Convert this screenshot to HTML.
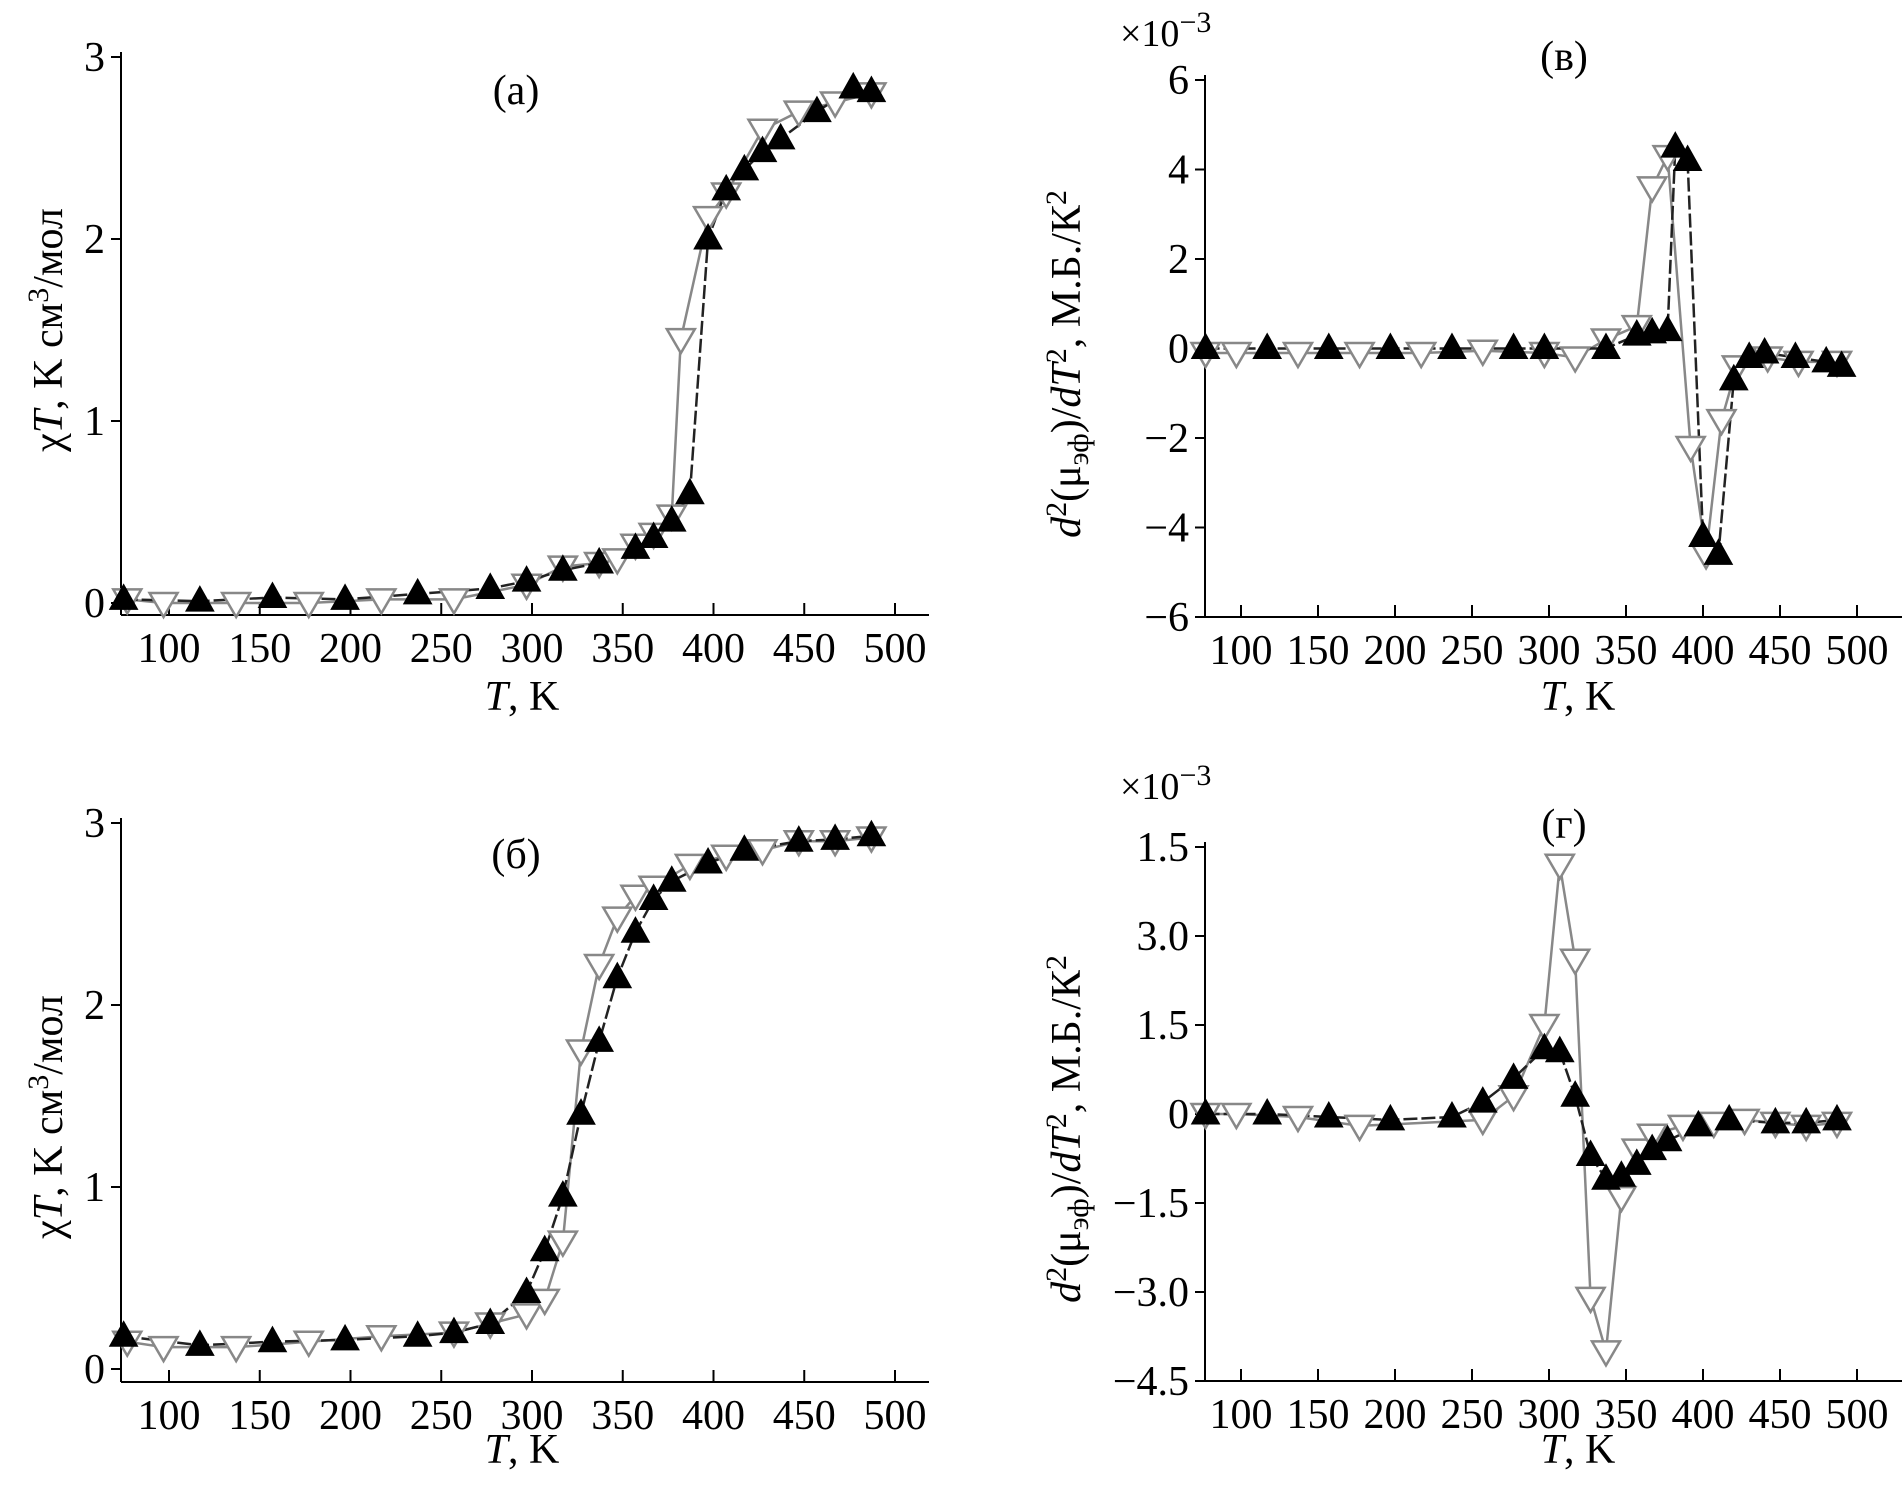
<!DOCTYPE html>
<html><head><meta charset="utf-8"><style>
html,body{margin:0;padding:0;background:#fff;}
svg{display:block;font-family:"Liberation Serif",serif;}
</style></head><body>
<svg id="fig" width="1904" height="1489" viewBox="0 0 1904 1489" xmlns="http://www.w3.org/2000/svg"></svg>
<script>
// Panel (a)
const aFilledT=[75,117,157,197,237,277,297,317,337,357,367,377,387,397,407,417,427,437,457,477,487];
const aFilledV=[0.02,0.01,0.03,0.02,0.05,0.08,0.12,0.18,0.22,0.3,0.36,0.45,0.6,2.0,2.27,2.38,2.48,2.55,2.7,2.83,2.81];
const aOpenT=[77,97,137,177,217,257,297,317,337,347,357,367,377,382,397,407,427,447,467,487];
const aOpenV=[0.02,0.0,0.0,0.0,0.02,0.02,0.1,0.2,0.22,0.24,0.32,0.38,0.48,1.45,2.12,2.25,2.6,2.7,2.75,2.8];
// Panel (b)
const bFilledT=[75,117,157,197,237,257,277,297,307,317,327,337,347,357,367,377,397,417,447,467,487];
const bFilledV=[0.18,0.13,0.15,0.16,0.18,0.2,0.25,0.42,0.65,0.95,1.4,1.8,2.15,2.4,2.58,2.68,2.78,2.85,2.9,2.91,2.93];
const bOpenT=[77,97,137,177,217,257,277,297,307,317,327,337,347,357,367,387,407,427,447,467,487];
const bOpenV=[0.15,0.12,0.12,0.15,0.18,0.2,0.25,0.3,0.38,0.7,1.75,2.22,2.48,2.6,2.65,2.77,2.82,2.85,2.9,2.9,2.92];
// Panel (v)
const vFilledT=[77,117,157,197,237,277,297,337,357,367,377,382,390,400,410,420,430,440,460,480,490];
const vFilledV=[0,0,0,0,0,0,0,0,0.3,0.35,0.4,4.5,4.2,-4.2,-4.6,-0.7,-0.2,-0.1,-0.2,-0.3,-0.4];
const vOpenT=[77,97,137,177,217,257,297,317,337,357,367,377,392,402,412,422,442,462,487];
const vOpenV=[-0.1,-0.1,-0.1,-0.1,-0.1,-0.05,-0.1,-0.2,0.2,0.5,3.6,4.3,-2.2,-4.6,-1.6,-0.4,-0.2,-0.3,-0.3];
// Panel (g)
const gFilledT=[77,117,157,197,237,257,277,297,307,317,327,337,347,357,367,377,397,417,447,467,487];
const gFilledV=[0,0,-0.05,-0.1,-0.05,0.2,0.6,1.1,1.05,0.3,-0.7,-1.1,-1.05,-0.85,-0.6,-0.45,-0.2,-0.1,-0.15,-0.15,-0.1];
const gOpenT=[77,97,137,177,257,277,297,307,317,327,337,347,357,367,387,407,427,447,467,487];
const gOpenV=[0,0,-0.05,-0.2,-0.1,0.3,1.5,4.2,2.6,-3.1,-4.0,-1.4,-0.6,-0.35,-0.2,-0.15,-0.1,-0.15,-0.2,-0.15];
// ticks
const xTicks=[100,150,200,250,300,350,400,450,500];
const chiTicks=[0,1,2,3];
const chiTickLabels=["0","1","2","3"];
const vTicks=[-6,-4,-2,0,2,4,6];
const vTickLabels=["\u22126","\u22124","\u22122","0","2","4","6"];
const gTicks=[-4.5,-3,-1.5,0,1.5,3,4.5];
const gTickLabels=["\u22124.5","\u22123.0","\u22121.5","0","1.5","3.0","1.5"];

const NS="http://www.w3.org/2000/svg";
const svg=document.getElementById('fig');
function mk(tag,attrs,parent){const e=document.createElementNS(NS,tag);for(const k in attrs)e.setAttribute(k,attrs[k]);(parent||svg).appendChild(e);return e;}

function panel(p){
  const g=mk('g',{});
  
  
  const X=t=>p.x100+(t-100)*p.kx;
  const Y=v=>p.y0+(v-p.v0)*(p.y1-p.y0)/(p.v1-p.v0);
  const ya=mk('line',{x1:p.ax,y1:p.axTop,x2:p.ax,y2:p.axY,stroke:'#000','stroke-width':2},g);
  
  
  const xa=mk('line',{x1:p.ax,y1:p.axY,x2:p.axRight,y2:p.axY,stroke:'#000','stroke-width':2},g);
  
  
  xTicks.forEach(t=>{
    mk('line',{x1:X(t),y1:p.axY,x2:X(t),y2:p.axY-12,stroke:'#000','stroke-width':2},g);
    const tx=mk('text',{x:X(t),y:p.axY+47,'font-size':42,'text-anchor':'middle'},g);
    tx.textContent=t;
    
    
  });
  p.yt.forEach((v,i)=>{
    mk('line',{x1:p.ax-10,y1:Y(v),x2:p.ax,y2:Y(v),stroke:'#000','stroke-width':2},g);
    const tx=mk('text',{x:p.ax-16,y:Y(v)+14,'font-size':42,'text-anchor':'end'},g);
    tx.textContent=p.yl[i];
    
    
  });
  const ol=mk('polyline',{points:p.oT.map((t,i)=>X(t)+','+Y(p.oV[i])).join(' '),fill:'none',stroke:'#888','stroke-width':2.5},g);
  
  
  const fl=mk('polyline',{points:p.fT.map((t,i)=>X(t)+','+Y(p.fV[i])).join(' '),fill:'none',stroke:'#222','stroke-width':2.5,'stroke-dasharray':'14,4'},g);
  
  
  p.oT.forEach((t,i)=>{
    const x=X(t),y=Y(p.oV[i]);
    const m=mk('polygon',{points:`${x-14},${y-10} ${x+14},${y-10} ${x},${y+14}`,fill:'#fff',stroke:'#888','stroke-width':2.5},g);
    
    
  });
  p.fT.forEach((t,i)=>{
    const x=X(t),y=Y(p.fV[i]);
    const m=mk('polygon',{points:`${x-14},${y+10} ${x+14},${y+10} ${x},${y-15}`,fill:'#000',stroke:'#000','stroke-width':1},g);
    
    
  });
  const xt=mk('text',{x:p.xtX,y:p.xtY,'font-size':42,'text-anchor':'middle'},g);
  xt.innerHTML='<tspan font-style="italic">T</tspan>, K';
  
  
  const yt=mk('text',{x:0,y:0,'font-size':42,'text-anchor':'middle',transform:`translate(${p.ytX},${p.ytY}) rotate(-90)`},g);
  yt.innerHTML=p.ylab;
  
  
  const pl=mk('text',{x:p.plX,y:p.plY,'font-size':42,'text-anchor':'middle'},g);
  pl.textContent=p.plabel;
  
  
  if(p.mult){
    const mu=mk('text',{x:p.mult[0],y:p.mult[1],'font-size':38,'text-anchor':'start'},g);
    mu.innerHTML='×10<tspan dy="-14" font-size="30">−3</tspan>';
    
    
  }
}
const chiLab='χ<tspan font-style="italic">T</tspan>, K см<tspan dy="-14" font-size="30">3</tspan><tspan dy="14">/мол</tspan>';
const dLab='<tspan font-style="italic">d</tspan><tspan dy="-14" font-size="30">2</tspan><tspan dy="14">(μ</tspan><tspan dy="8" font-size="30">эф</tspan><tspan dy="-8">)/</tspan><tspan font-style="italic">dT</tspan><tspan dy="-14" font-size="30">2</tspan><tspan dy="14">, М.Б./К</tspan><tspan dy="-14" font-size="30">2</tspan>';
panel({name:'panel-a',x100:169,kx:1.815,y0:603,v0:0,y1:57,v1:3,ax:121,axTop:52,axY:615,axRight:929,yt:chiTicks,yl:chiTickLabels,
  fT:aFilledT,fV:aFilledV,oT:aOpenT,oV:aOpenV,xtX:522,xtY:710,ytX:62,ytY:330,ylab:chiLab,plX:516,plY:104,plabel:'(a)'});
panel({name:'panel-b',x100:169,kx:1.815,y0:1369,v0:0,y1:823,v1:3,ax:121,axTop:818,axY:1382,axRight:929,yt:chiTicks,yl:chiTickLabels,
  fT:bFilledT,fV:bFilledV,oT:bOpenT,oV:bOpenV,xtX:522,xtY:1463,ytX:62,ytY:1117,ylab:chiLab,plX:516,plY:868,plabel:'(б)'});
panel({name:'panel-v',x100:1241,kx:1.54,y0:617,v0:-6,y1:80,v1:6,ax:1205,axTop:75,axY:617,axRight:1902,yt:vTicks,yl:vTickLabels,
  fT:vFilledT,fV:vFilledV,oT:vOpenT,oV:vOpenV,xtX:1578,xtY:710,ytX:1080,ytY:364,ylab:dLab,plX:1564,plY:70,plabel:'(в)',mult:[1120,46]});
panel({name:'panel-g',x100:1241,kx:1.54,y0:1381,v0:-4.5,y1:847,v1:4.5,ax:1205,axTop:842,axY:1381,axRight:1902,yt:gTicks,yl:gTickLabels,
  fT:gFilledT,fV:gFilledV,oT:gOpenT,oV:gOpenV,xtX:1578,xtY:1463,ytX:1080,ytY:1129,ylab:dLab,plX:1564,plY:838,plabel:'(г)',mult:[1120,799]});
</script>
</body></html>
